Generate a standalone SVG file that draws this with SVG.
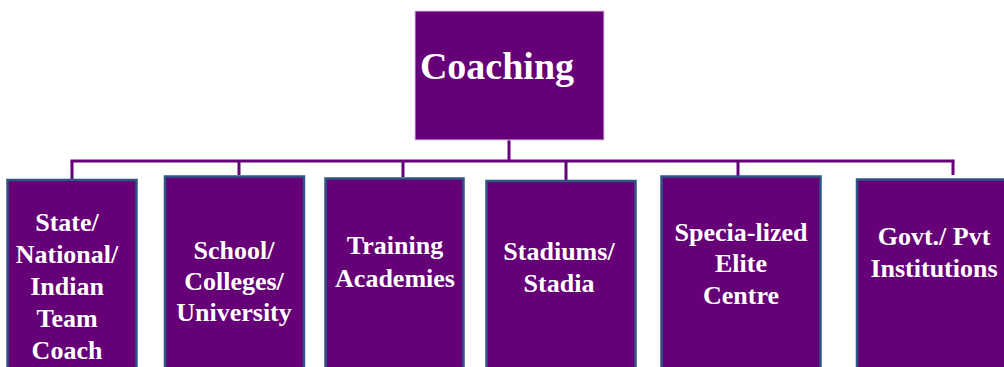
<svg xmlns="http://www.w3.org/2000/svg" width="1004" height="367" viewBox="0 0 1004 367">
<style>
.box{fill:#660077;stroke:#2E5584;stroke-width:2.5}
.top{fill:#660077;stroke:#D8C8E0;stroke-width:1}
.t{font-family:"Liberation Serif","Times New Roman",serif;font-weight:bold;fill:#FFFFFF;text-anchor:middle;font-size:26px}
.conn{stroke:#660077;stroke-width:3;fill:none}
</style>
<rect width="1004" height="367" fill="#FFFFFF"/>
<g id="connectors">
<line class="conn" x1="509" y1="140" x2="509" y2="161"/>
<line class="conn" x1="70.5" y1="161" x2="954.5" y2="161"/>
<line class="conn" x1="72" y1="161" x2="72" y2="179"/>
<line class="conn" x1="239" y1="161" x2="239" y2="175"/>
<line class="conn" x1="403" y1="161" x2="403" y2="177"/>
<line class="conn" x1="566" y1="161" x2="566" y2="180"/>
<line class="conn" x1="738" y1="161" x2="738" y2="176"/>
<line class="conn" x1="953" y1="161" x2="953" y2="175"/>
</g>
<g id="coaching">
<rect class="top" x="415" y="11" width="189" height="129"/>
<text class="t" x="497" y="79" style="font-size:38px">Coaching</text>
</g>
<g id="state">
<rect class="box" x="7.5" y="180" width="129" height="192"/>
<text class="t" x="67" y="231">State/</text>
<text class="t" x="67" y="263">National/</text>
<text class="t" x="67" y="295">Indian</text>
<text class="t" x="67" y="327">Team</text>
<text class="t" x="67" y="359">Coach</text>
</g>
<g id="school">
<rect class="box" x="165" y="176.5" width="139" height="195"/>
<text class="t" x="234" y="259">School/</text>
<text class="t" x="234" y="290">Colleges/</text>
<text class="t" x="234" y="321">University</text>
</g>
<g id="training">
<rect class="box" x="325.5" y="178.5" width="138" height="193"/>
<text class="t" x="395" y="254">Training</text>
<text class="t" x="395" y="287">Academies</text>
</g>
<g id="stadiums">
<rect class="box" x="486.5" y="181" width="149" height="191"/>
<text class="t" x="559" y="260">Stadiums/</text>
<text class="t" x="559" y="292">Stadia</text>
</g>
<g id="elite">
<rect class="box" x="661.5" y="176.5" width="159" height="195"/>
<text class="t" x="741" y="241">Specia-lized</text>
<text class="t" x="741" y="272">Elite</text>
<text class="t" x="741" y="304">Centre</text>
</g>
<g id="govt">
<rect class="box" x="857" y="179.5" width="160" height="192"/>
<text class="t" x="934" y="245">Govt./ Pvt</text>
<text class="t" x="934" y="277">Institutions</text>
</g>
</svg>
